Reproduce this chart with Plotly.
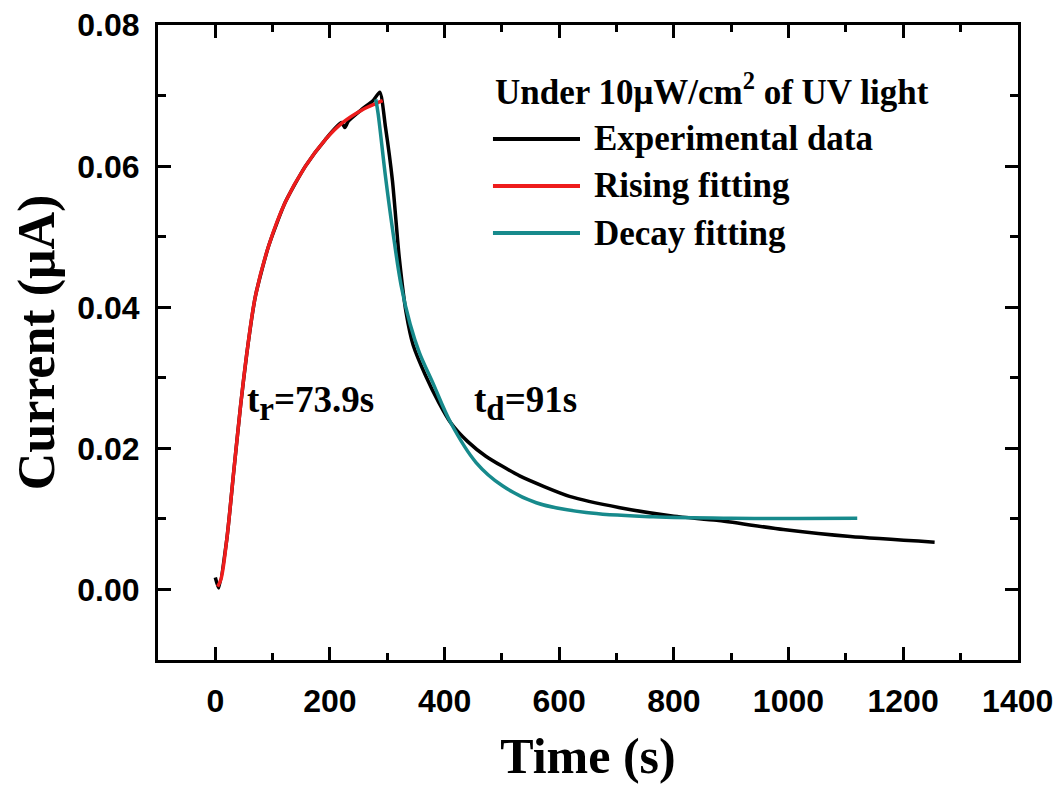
import plotly.graph_objs as go

# values
exp_time = [0, 6, 20, 32, 44, 55, 70, 93, 122, 157, 192, 220, 226, 232, 256,
            275, 287, 297, 309, 321, 333, 345, 367, 390, 411, 440, 472, 531,
            618, 706, 800, 875, 991, 1108, 1255]
exp_current = [0.0017, 0.0002, 0.0071, 0.0166, 0.0260, 0.0335, 0.0416, 0.0487,
               0.0549, 0.0600, 0.0638, 0.0662, 0.0655, 0.0664, 0.0681, 0.0693,
               0.0705, 0.0655, 0.0580, 0.0470, 0.0392, 0.0347, 0.0303, 0.0265,
               0.0236, 0.0210, 0.0189, 0.0161, 0.0132, 0.0116, 0.0104, 0.0098,
               0.0085, 0.0075, 0.0067]

rise_time = [4, 10, 20, 32, 44, 55, 70, 93, 122, 157, 192, 222, 256, 280, 292]
rise_current = [0.0004, 0.0015, 0.0071, 0.0166, 0.0260, 0.0335, 0.0416, 0.0487,
                0.0549, 0.0600, 0.0638, 0.0662, 0.0680, 0.0689, 0.0693]

decay_time = [280, 284, 297, 309, 324, 340, 356, 379, 411, 455, 501, 560, 647,
              764, 900, 1120]
decay_current = [0.0695, 0.0675, 0.0585, 0.0512, 0.0432, 0.0376, 0.0336, 0.0294,
                 0.0236, 0.0180, 0.0147, 0.0123, 0.0109, 0.0103, 0.0101, 0.0101]

y_ticks = [0.00, 0.02, 0.04, 0.06, 0.08]
x_ticks = [0, 200, 400, 600, 800, 1000, 1200, 1400]

legend_title = 'Under 10\u03bcW/cm<sup>2</sup> of UV light'
series_names = ['Experimental data', 'Rising fitting', 'Decay fitting']
series_colors = ['#000000', '#ee1c1c', '#178a8c']

serif = 'Liberation Serif'
sans = 'Liberation Sans'

fig = go.Figure()

# black data first, fits drawn on top
fig.add_trace(go.Scatter(x=exp_time, y=exp_current, mode='lines',
                         name=series_names[0],
                         line=dict(color=series_colors[0], width=3.5,
                                   shape='spline', smoothing=0.6)))
fig.add_trace(go.Scatter(x=rise_time, y=rise_current, mode='lines',
                         name=series_names[1],
                         line=dict(color=series_colors[1], width=3.5,
                                   shape='spline')))
fig.add_trace(go.Scatter(x=decay_time, y=decay_current, mode='lines',
                         name=series_names[2],
                         line=dict(color=series_colors[2], width=3.5,
                                   shape='spline')))

axis_common = dict(showline=True, linewidth=3, linecolor='black', mirror='allticks',
                   ticks='inside', tickwidth=3, tickcolor='black', ticklen=13,
                   showgrid=False, zeroline=False, automargin=False,
                   ticklabeloverflow='allow',
                   tickfont=dict(family=sans, size=32, color='black', weight='bold'))

fig.update_xaxes(range=[-100, 1400.5], tickvals=x_ticks,
                 minor=dict(dtick=100, tick0=0, ticks='inside', ticklen=7,
                            tickwidth=3, tickcolor='black'),
                 ticklabelstandoff=11,
                 title=dict(text='Time (s)', standoff=20,
                            font=dict(family=serif, size=50, color='black',
                                      weight='bold')),
                 **axis_common)
fig.update_yaxes(range=[-0.01, 0.08004], tickvals=y_ticks, tickformat='.2f',
                 minor=dict(dtick=0.01, tick0=0, ticks='inside', ticklen=8,
                            tickwidth=3, tickcolor='black'),
                 ticklabelstandoff=9,
                 title=dict(text='Current (\u03bcA)', standoff=14,
                            font=dict(family=serif, size=52, color='black',
                                      weight='bold')),
                 **axis_common)

# hand-made legend so the sample lines are long like the original
legend_font = dict(family=serif, size=35, color='black', weight='bold')
fig.add_annotation(x=0.3895, y=0.898, xref='paper', yref='paper',
                   xanchor='left', yanchor='middle', showarrow=False,
                   text=legend_title, font=legend_font)
legend_rows = [0.8205, 0.7465, 0.6724]
for name, color, yy in zip(series_names, series_colors, legend_rows):
    fig.add_shape(type='line', xref='paper', yref='paper',
                  x0=0.3895, x1=0.4907, y0=yy, y1=yy,
                  line=dict(color=color, width=4))
    fig.add_annotation(x=0.5047, y=yy, xref='paper', yref='paper',
                       xanchor='left', yanchor='middle', showarrow=False,
                       text=name, font=legend_font)

# time constants
note_font = dict(family=serif, size=37, color='black', weight='bold')
sub_style = '<span style="font-size:33px">%s</span>'
fig.add_annotation(x=52, y=0.0265, xanchor='left', yanchor='middle',
                   showarrow=False,
                   text='t<sub>' + sub_style % 'r' + '</sub>=73.9s', font=note_font)
fig.add_annotation(x=448, y=0.0265, xanchor='left', yanchor='middle',
                   showarrow=False,
                   text='t<sub>' + sub_style % 'd' + '</sub>=91s', font=note_font)

# the page body adds an 8px margin, so the figure is 8px smaller each way
fig.update_layout(width=1056, height=779,
                  margin=dict(l=150, r=46, t=17, b=127),
                  plot_bgcolor='white', paper_bgcolor='white',
                  showlegend=False)

fig.write_html("out.html")
